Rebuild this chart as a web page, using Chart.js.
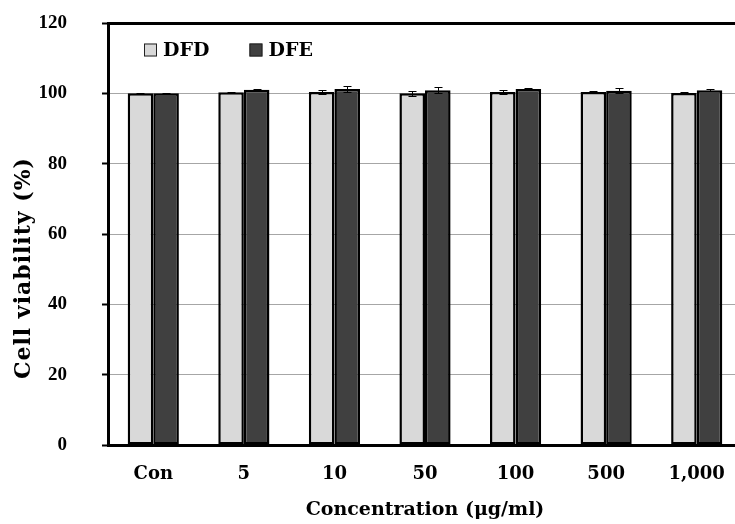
<!DOCTYPE html>
<html>
<head>
<meta charset="utf-8">
<script src="https://cdn.jsdelivr.net/npm/chart.js@4.4.1/dist/chart.umd.min.js"></script>
<style>
  html, body { margin: 0; padding: 0; background: #fff; overflow: hidden; }
  canvas { display: block; }
</style>
</head>
<body>
<canvas id="c" width="745" height="524"></canvas>
<script>
// Cell viability after treatment with DFD and DFE extracts
const categories = ['Con', '5', '10', '50', '100', '500', '1,000'];
const dfdValues  = [100.0, 100.3, 100.4, 100.0, 100.4, 100.4, 100.1];
const dfeValues  = [100.0, 101.0, 101.2, 100.9, 101.2, 100.7, 100.9];
const dfdErrors  = [0.1, 0.2, 0.6, 0.7, 0.6, 0.2, 0.4];
const dfeErrors  = [0.1, 0.2, 0.8, 0.8, 0.3, 0.7, 0.2];
const yTickValues = [0, 20, 40, 60, 80, 100, 120];

// Error bars: drawn on top of each bar from mean ± SD through the y scale
const errorBars = {
  id: 'errorBars',
  afterDatasetsDraw(chart) {
    const ctx = chart.ctx, y = chart.scales.y;
    chart.data.datasets.forEach((ds, i) => {
      const meta = chart.getDatasetMeta(i);
      meta.data.forEach((bar, j) => {
        const v = ds.data[j], e = ds.errors[j];
        const top = Math.round(y.getPixelForValue(v + e)) + 0.5;
        const bot = Math.round(y.getPixelForValue(v - e)) + 0.5;
        const x = Math.round(bar.x) + 0.5;
        ctx.save();
        ctx.strokeStyle = '#000';
        ctx.lineWidth = 1;
        ctx.beginPath();
        ctx.moveTo(x, top); ctx.lineTo(x, bot);
        ctx.moveTo(x - 4, top); ctx.lineTo(x + 4, top);
        ctx.moveTo(x - 4, bot); ctx.lineTo(x + 4, bot);
        ctx.stroke();
        ctx.restore();
      });
    });
  }
};

// Legend placed inside the plot, upper left
const insideLegend = {
  id: 'insideLegend',
  afterDraw(chart) {
    const ctx = chart.ctx, a = chart.chartArea;
    let x = a.left + 36;
    const cy = a.top + 27;
    ctx.save();
    ctx.font = 'bold 19px "DejaVu Serif"';
    ctx.textBaseline = 'middle';
    ctx.textAlign = 'left';
    chart.data.datasets.forEach(ds => {
      ctx.fillStyle = ds.backgroundColor;
      ctx.fillRect(x, cy - 6.5, 13, 13);
      ctx.strokeStyle = '#222';
      ctx.lineWidth = 1;
      ctx.strokeRect(x + 0.5, cy - 6, 12, 12);
      ctx.fillStyle = '#000';
      ctx.fillText(ds.label, x + 19, cy + 1);
      x += 19 + ctx.measureText(ds.label).width + 40;
    });
    ctx.restore();
  }
};

// Rotated y-axis title
const yTitle = {
  id: 'yTitle',
  afterDraw(chart) {
    const ctx = chart.ctx, a = chart.chartArea;
    ctx.save();
    ctx.translate(24, (a.top + a.bottom) / 2 + 34);
    ctx.rotate(-Math.PI / 2);
    ctx.font = 'bold 22px "DejaVu Serif"';
    if ('letterSpacing' in ctx) ctx.letterSpacing = '1px';
    ctx.fillStyle = '#000';
    ctx.textAlign = 'center';
    ctx.textBaseline = 'middle';
    ctx.fillText('Cell viability (%)', 0, 0);
    ctx.restore();
  }
};

new Chart(document.getElementById('c'), {
  type: 'bar',
  data: {
    labels: categories,
    datasets: [
      { label: 'DFD', data: dfdValues, errors: dfdErrors,
        backgroundColor: '#d9d9d9', borderColor: '#000', borderWidth: 2.5, borderSkipped: false },
      { label: 'DFE', data: dfeValues, errors: dfeErrors,
        backgroundColor: '#404040', borderColor: '#000', borderWidth: 2.5, borderSkipped: false }
    ]
  },
  options: {
    responsive: false,
    animation: false,
    devicePixelRatio: 1,
    layout: { padding: { top: 23, right: 3, left: 0, bottom: 0 } },
    datasets: { bar: { categoryPercentage: 0.565, barPercentage: 1.0 } },
    plugins: {
      legend: { display: false },
      tooltip: { enabled: false }
    },
    scales: {
      x: {
        grid: { display: true, drawOnChartArea: false, drawTicks: false },
        border: { display: true, color: '#000', width: 3 },
        ticks: {
          color: '#000',
          padding: 19,
          font: { family: 'DejaVu Serif', weight: 'bold', size: 18 }
        },
        title: {
          display: true,
          text: 'Concentration (μg/ml)',
          color: '#000',
          font: { family: 'DejaVu Serif', weight: 'bold', size: 19 },
          padding: { top: 0, bottom: 3 }
        },
        afterFit(scale) { scale.height = 79; }
      },
      y: {
        min: 0,
        max: 120,
        afterBuildTicks(scale) { scale.ticks = yTickValues.map(v => ({ value: v })); },
        grid: {
          color: c => (c.tick && c.tick.value === 120) ? '#000' : '#a6a6a6',
          lineWidth: c => (c.tick && c.tick.value === 120) ? 3 : 1,
          tickColor: '#000',
          tickWidth: 2,
          tickLength: 6,
          drawTicks: true
        },
        border: { display: true, color: '#000', width: 3 },
        ticks: {
          color: '#000',
          padding: 35,
          font: { family: 'Liberation Serif', weight: 'bold', size: 19 }
        },
        afterFit(scale) {
          scale.width = 108;
          // label padding is horizontal only; keep vertical room to half a label
          scale.paddingTop = 12;
          scale.paddingBottom = 12;
        }
      }
    }
  },
  plugins: [errorBars, insideLegend, yTitle]
});
</script>
</body>
</html>
